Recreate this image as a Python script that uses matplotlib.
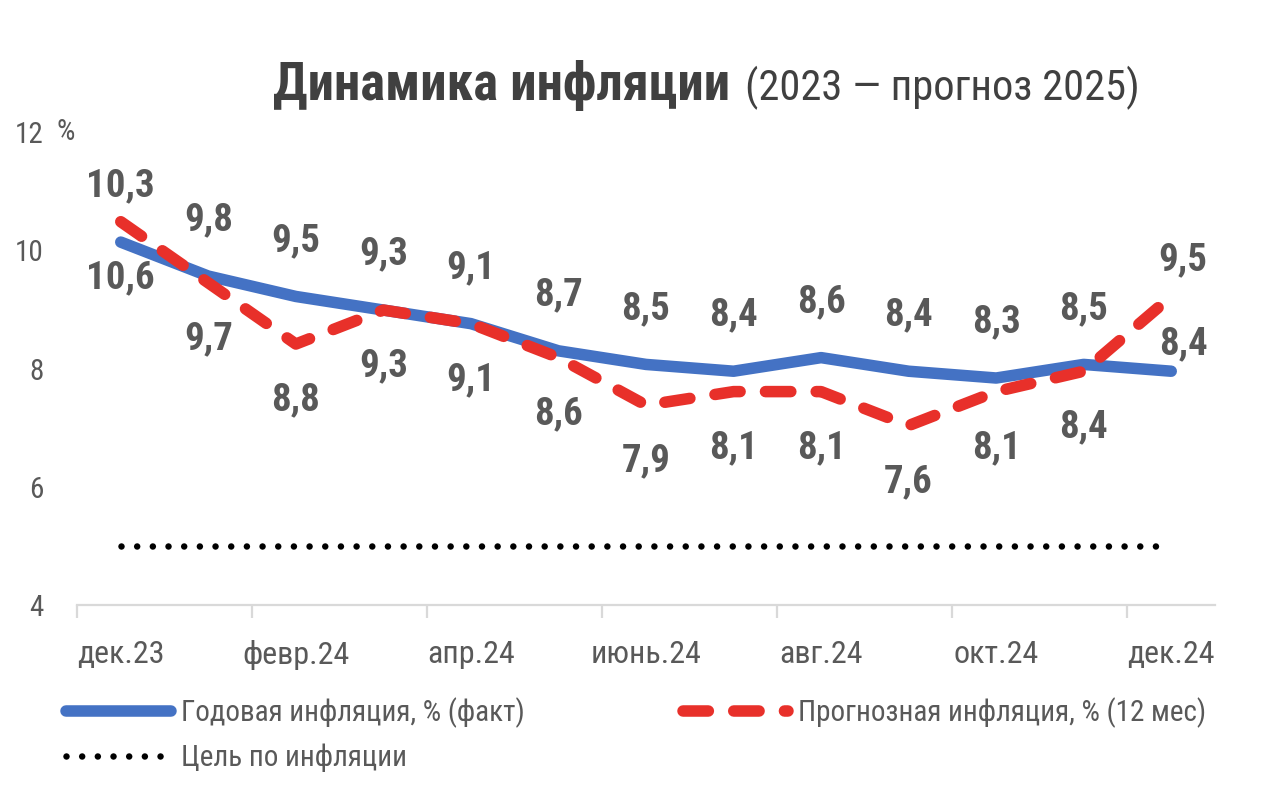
import matplotlib.pyplot as plt
import numpy as np

plt.rcParams['font.family'] = ['Roboto Condensed', 'PT Sans Narrow', 'DejaVu Sans']

# ------ ДАННЫЕ ------
months = ['дек.23', 'янв.24', 'февр.24', 'март.24', 'апр.24', 'май.24', 'июнь.24',
          'июль.24', 'авг.24', 'сент.24', 'окт.24', 'нояб.24', 'дек.24']
fact = [10.3, 9.8, 9.5, 9.3, 9.1, 8.7, 8.5, 8.4, 8.6, 8.4, 8.3, 8.5, 8.4]
forecast = [10.6, 9.7, 8.8, 9.3, 9.1, 8.6, 7.9, 8.1, 8.1, 7.6, 8.1, 8.4, 9.5]
target = 5.0
y_ticks = [4, 6, 8, 10, 12]

BLUE = '#4472C4'
RED = '#E8302A'
TXT = '#595959'
W, H = 1277, 786


def fmt(v):
    return f'{v:.1f}'.replace('.', ',')


fig = plt.figure(figsize=(W / 100, H / 100), dpi=100)
ax = fig.add_axes([77 / W, 1 - 605 / H, (1215 - 77) / W, (605 - 132) / H])

x = np.arange(len(months))
ax.set_xlim(-0.5, len(months) - 0.5)
ax.set_ylim(4, 12)

# цель по инфляции
lt, = ax.plot(x, np.full(len(x), target), color='black', lw=4.7,
              linestyle=(0, (0.001, 2.4)), dash_capstyle='round')

# оси
for s in ['top', 'right', 'left']:
    ax.spines[s].set_visible(False)
ax.spines['bottom'].set_color('#D9D9D9')
ax.spines['bottom'].set_linewidth(1.6)

ax.set_xticks(x[::2])
ax.set_xticklabels(months[::2])
ax.set_xticks(np.arange(-0.5, len(months) - 1, 2), minor=True)
ax.tick_params(axis='x', which='major', length=0, pad=25, labelsize=23, labelcolor=TXT)
ax.tick_params(axis='x', which='minor', length=9, width=1.6, color='#D9D9D9')
ax.set_yticks(y_ticks)
ax.tick_params(axis='y', length=0, pad=24, labelsize=21, labelcolor=TXT)
ax.annotate('%', xy=(0, 12), xycoords=('axes fraction', 'data'), xytext=(-20, 0),
            textcoords='offset pixels', ha='left', va='center', fontsize=21, color=TXT)

# линии на своей шкале
ax2 = ax.twinx()
ax2.set_ylim(4.96, 11.92)
ax2.set_axis_off()

l1, = ax2.plot(x, fact, color=BLUE, lw=8.3, solid_capstyle='round', solid_joinstyle='round')
l2, = ax2.plot(x, forecast, color=RED, lw=8.3, dash_capstyle='round',
               dash_joinstyle='round', dashes=(2.2, 2.2))

last = len(x) - 1
for i in x:
    if i == last:
        b_off, r_off = (12, 27), (12, 37)
    else:
        b_off, r_off = (0, 56), (0, -56)
    ax2.annotate(fmt(fact[i]), xy=(i, fact[i]), xytext=b_off, textcoords='offset pixels',
                 ha='center', va='center', fontsize=28, fontweight='bold', color=TXT)
    ax2.annotate(fmt(forecast[i]), xy=(i, forecast[i]), xytext=r_off, textcoords='offset pixels',
                 ha='center', va='center', fontsize=28, fontweight='bold', color=TXT)

# заголовок: жирная часть и обычная, подгоняем по ширине
t1 = fig.text(0, 1 - 100 / H, 'Динамика инфляции', ha='left', va='baseline',
              fontsize=44, fontweight='bold', color='#404040')
t2 = fig.text(0, 1 - 100 / H, '(2023 — прогноз 2025)', ha='left', va='baseline',
              fontsize=44, color='#404040')
r = fig.canvas.get_renderer()
t1.set_fontsize(44 * 457 / t1.get_window_extent(r).width)
t2.set_fontsize(44 * 395 / t2.get_window_extent(r).width)
t1.set_x(273 / W)
t2.set_x(745 / W)

# легенда
leg_kw = dict(loc='upper left', frameon=False, fontsize=21, handlelength=3.6,
              handletextpad=0.35, labelspacing=0.55, borderpad=0, borderaxespad=0,
              labelcolor=TXT, bbox_transform=fig.transFigure)
fig.legend([l1, lt], ['Годовая инфляция, % (факт)', 'Цель по инфляции'],
           bbox_to_anchor=(66 / W, 1 - 697 / H), **leg_kw)
fig.legend([l2], ['Прогнозная инфляция, % (12 мес)'],
           bbox_to_anchor=(683 / W, 1 - 697 / H), **leg_kw)

fig.savefig('out.png', dpi=100)
